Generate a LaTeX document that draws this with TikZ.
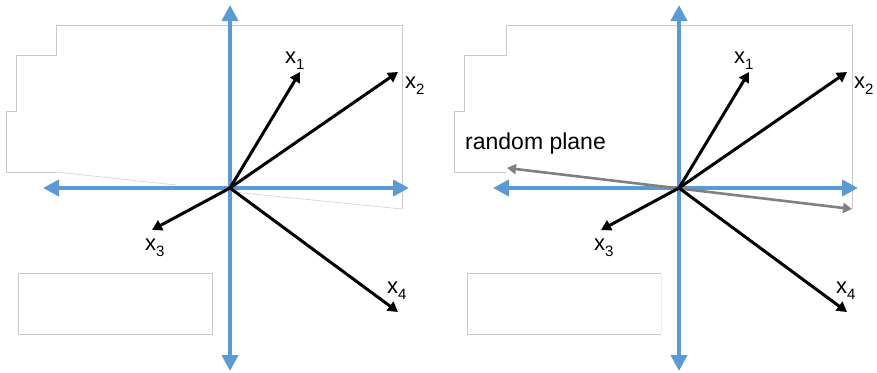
\documentclass[tikz,border=0pt]{standalone}
\usepackage{fontspec}
\setmainfont{Liberation Sans}
\usepackage{xcolor}
\usetikzlibrary{arrows.meta}

\definecolor{axisblue}{HTML}{5B9BD5}
\definecolor{planegray}{HTML}{808080}
\definecolor{ghostgray}{HTML}{C8C8C8}

% vector label: x with a lowered index
\newcommand{\veclab}[1]{x\raisebox{-6pt}{\fontsize{15}{15}\selectfont #1}}

\begin{document}
\begin{tikzpicture}[
    x=1pt, y=-1pt,
    axis/.style={{Triangle[width=16pt,length=16pt]}-{Triangle[width=16pt,length=16pt]},
                 line width=4.6pt, color=axisblue},
    vec/.style={-{Triangle[width=11pt,length=10pt]}, line width=3pt},
    planevec/.style={{Triangle[width=10pt,length=9pt]}-{Triangle[width=10pt,length=9pt]},
                     line width=2.6pt, color=planegray},
    ghost/.style={draw=ghostgray, line width=0.8pt},
    lab/.style={font=\fontsize{22}{22}\selectfont, inner sep=0pt, anchor=base west},
]
\useasboundingbox (0,0) rectangle (877,372);

% left panel: leftover outlines
\draw[ghost] (56,25) -- (402,25) -- (402,209);
\draw[ghost] (56,25) -- (56,55) -- (16,55) -- (16,111) -- (6,111) -- (6,172) -- (56,172);
\draw[ghost, draw=ghostgray!70] (56,172) -- (176,185);
\draw[ghost, draw=ghostgray!70] (233,192) -- (402,209);
\draw[ghost] (18,273) rectangle (212,334);

% left panel: axes
\coordinate (oL) at (230,188);
\coordinate (upL) at (230,5);
\coordinate (dnL) at (230,371);
\coordinate (wL) at (43,188);
\coordinate (eL) at (409,188);
\draw[axis] (dnL) -- (upL);
\draw[axis] (wL) -- (eL);

% left panel: vectors
\coordinate (t1L) at (300,72);
\coordinate (t2L) at (398,72);
\coordinate (t3L) at (152,230);
\coordinate (t4L) at (398,312);
\draw[vec] (oL) -- (t1L);
\draw[vec] (oL) -- (t2L);
\draw[vec] (oL) -- (t3L);
\draw[vec] (oL) -- (t4L);
\node[lab] (l1L) at (285,63) {\veclab{1}};
\node[lab] (l2L) at (405,88) {\veclab{2}};
\node[lab] (l3L) at (145,250) {\veclab{3}};
\node[lab] (l4L) at (387,293) {\veclab{4}};

% right panel: leftover outlines
\draw[ghost] (506,25) -- (852,25) -- (852,209);
\draw[ghost] (506,25) -- (506,55) -- (464,55) -- (464,111) -- (454,111) -- (454,172) -- (506,172);
\draw[ghost] (661,273) -- (467,273) -- (467,334) -- (661,334);
\draw[ghost, draw=ghostgray!35] (661,273) -- (661,334);

% right panel: axes
\coordinate (oR) at (679,188);
\coordinate (upR) at (679,5);
\coordinate (dnR) at (679,371);
\coordinate (wR) at (493,188);
\coordinate (eR) at (858,188);
\draw[axis] (dnR) -- (upR);
\draw[axis] (wR) -- (eR);

% right panel: random plane
\coordinate (pwR) at (507,168);
\coordinate (peR) at (852,209);
\draw[planevec] (pwR) -- (peR);
\node[font=\fontsize{23}{23}\selectfont, inner sep=0pt, anchor=base west] (plane) at (465,149) {random plane};

% right panel: vectors
\coordinate (t1R) at (749,72);
\coordinate (t2R) at (847,72);
\coordinate (t3R) at (601,230);
\coordinate (t4R) at (847,312);
\draw[vec] (oR) -- (t1R);
\draw[vec] (oR) -- (t2R);
\draw[vec] (oR) -- (t3R);
\draw[vec] (oR) -- (t4R);
\node[lab] (l1R) at (734,63) {\veclab{1}};
\node[lab] (l2R) at (854,88) {\veclab{2}};
\node[lab] (l3R) at (594,250) {\veclab{3}};
\node[lab] (l4R) at (836,293) {\veclab{4}};

\end{tikzpicture}
\end{document}
